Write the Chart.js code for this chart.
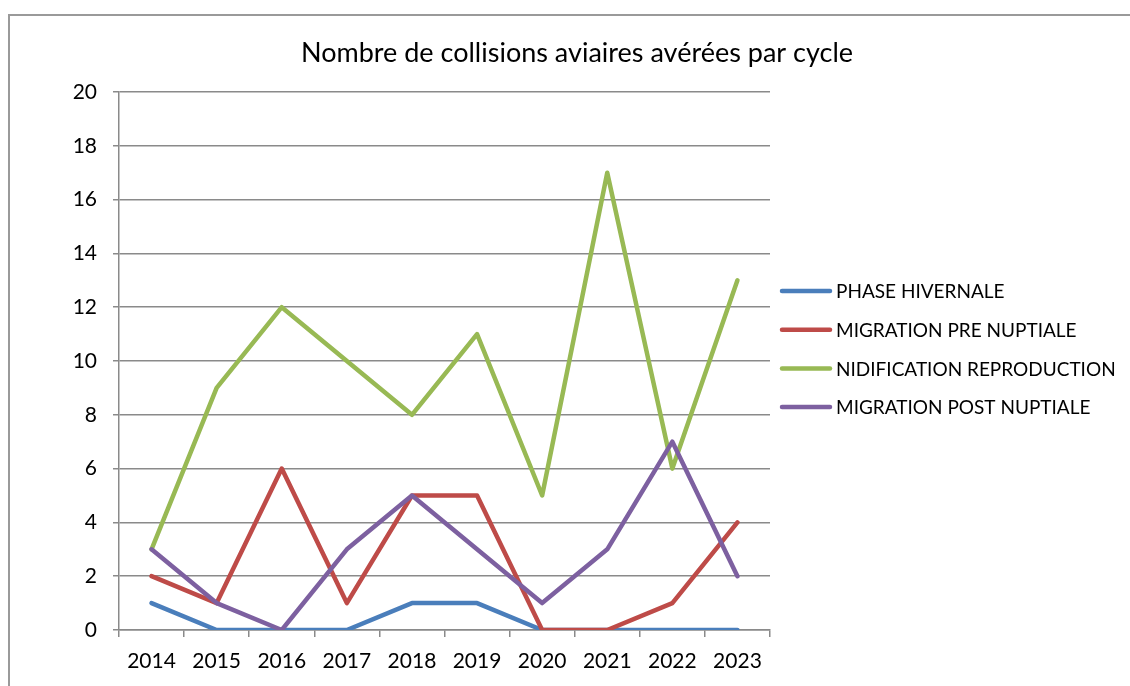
<!DOCTYPE html>
<html>
<head>
<meta charset="utf-8">
<script src="https://cdn.jsdelivr.net/npm/chart.js@4"></script>
<style>
  html, body { margin: 0; padding: 0; background: #fff; overflow: hidden; }
  #wrap { position: relative; width: 1130px; height: 686px; }
  #frame { position: absolute; left: 8px; top: 14px; width: 1200px; height: 800px; border: 2px solid #9a9a9a; box-sizing: border-box; }
  canvas { position: absolute; left: 0; top: 0; }
</style>
</head>
<body>
<div id="wrap">
  <div id="frame"></div>
  <canvas id="chart" width="1130" height="686"></canvas>
</div>
<script>
// Years (categories)
const years = ['2014', '2015', '2016', '2017', '2018', '2019', '2020', '2021', '2022', '2023'];

// Series values
const phaseHivernale = [1, 0, 0, 0, 1, 1, 0, 0, 0, 0];
const migrationPre = [2, 1, 6, 1, 5, 5, 0, 0, 1, 4];
const nidification = [3, 9, 12, 10, 8, 11, 5, 17, 6, 13];
const migrationPost = [3, 1, 0, 3, 5, 3, 1, 3, 7, 2];

const seriesNames = ['PHASE HIVERNALE', 'MIGRATION PRE NUPTIALE', 'NIDIFICATION REPRODUCTION', 'MIGRATION POST NUPTIALE'];
const seriesColors = ['#4a7ebb', '#be4b48', '#98b954', '#7d60a0'];
const chartTitle = 'Nombre de collisions aviaires avérées par cycle';

const FONT = 'Lato, "Open Sans", sans-serif';

// Title + legend drawn outside the plot area, like the Excel original
const sideLegend = {
    id: 'sideLegend',
    afterDraw(chart) {
        const c = chart.ctx;
        c.save();
        // title, centred over the whole chart frame
        c.font = '27px ' + FONT;
        c.fillStyle = '#000';
        c.textAlign = 'center';
        c.textBaseline = 'middle';
        c.fillText(chartTitle, 577, 53);

        const x0 = chart.chartArea.right + 12;
        const top = 291;
        const step = 38.7;
        c.font = '19px ' + FONT;
        c.textAlign = 'left';
        chart.data.datasets.forEach((ds, i) => {
            const y = top + i * step;
            c.strokeStyle = ds.borderColor;
            c.lineWidth = 4.5;
            c.lineCap = 'round';
            c.beginPath();
            c.moveTo(x0, y);
            c.lineTo(x0 + 48, y);
            c.stroke();
            c.fillStyle = '#000';
            c.fillText(ds.label, x0 + 54, y + 1);
        });
        c.restore();
    }
};

const datasets = [phaseHivernale, migrationPre, nidification, migrationPost].map((vals, i) => ({
    label: seriesNames[i],
    data: vals,
    borderColor: seriesColors[i],
    backgroundColor: seriesColors[i],
    borderWidth: 4.5,
    borderCapStyle: 'round',
    borderJoinStyle: 'round',
    pointRadius: 0,
    tension: 0,
    order: 4 - i // later series on top, as in Excel
}));

new Chart(document.getElementById('chart'), {
    type: 'line',
    data: { labels: years, datasets },
    options: {
        responsive: false,
        animation: false,
        layout: { padding: { left: 24, right: 360, top: 92, bottom: 0 } },
        plugins: {
            legend: { display: false },
            tooltip: { enabled: false },
            title: { display: false }
        },
        scales: {
            x: {
                offset: true,
                grid: {
                    offset: true,
                    drawOnChartArea: false,
                    drawTicks: true,
                    tickLength: 7,
                    color: '#8a8a8a',
                    lineWidth: 1.5
                },
                border: { display: true, color: '#8a8a8a', width: 1.5 },
                ticks: {
                    color: '#000',
                    font: { family: FONT, size: 21 },
                    padding: 12,
                    maxRotation: 0,
                    autoSkip: false
                },
                afterFit: s => { s.height = 56; }
            },
            y: {
                min: 0,
                max: 20,
                ticks: {
                    stepSize: 2,
                    color: '#000',
                    font: { family: FONT, size: 21 },
                    padding: 16
                },
                grid: {
                    color: '#8a8a8a',
                    lineWidth: 1.5,
                    tickLength: 6
                },
                border: { display: true, color: '#8a8a8a', width: 1.5 },
                afterFit: s => { s.width = 95; }
            }
        }
    },
    plugins: [sideLegend]
});
</script>
</body>
</html>
